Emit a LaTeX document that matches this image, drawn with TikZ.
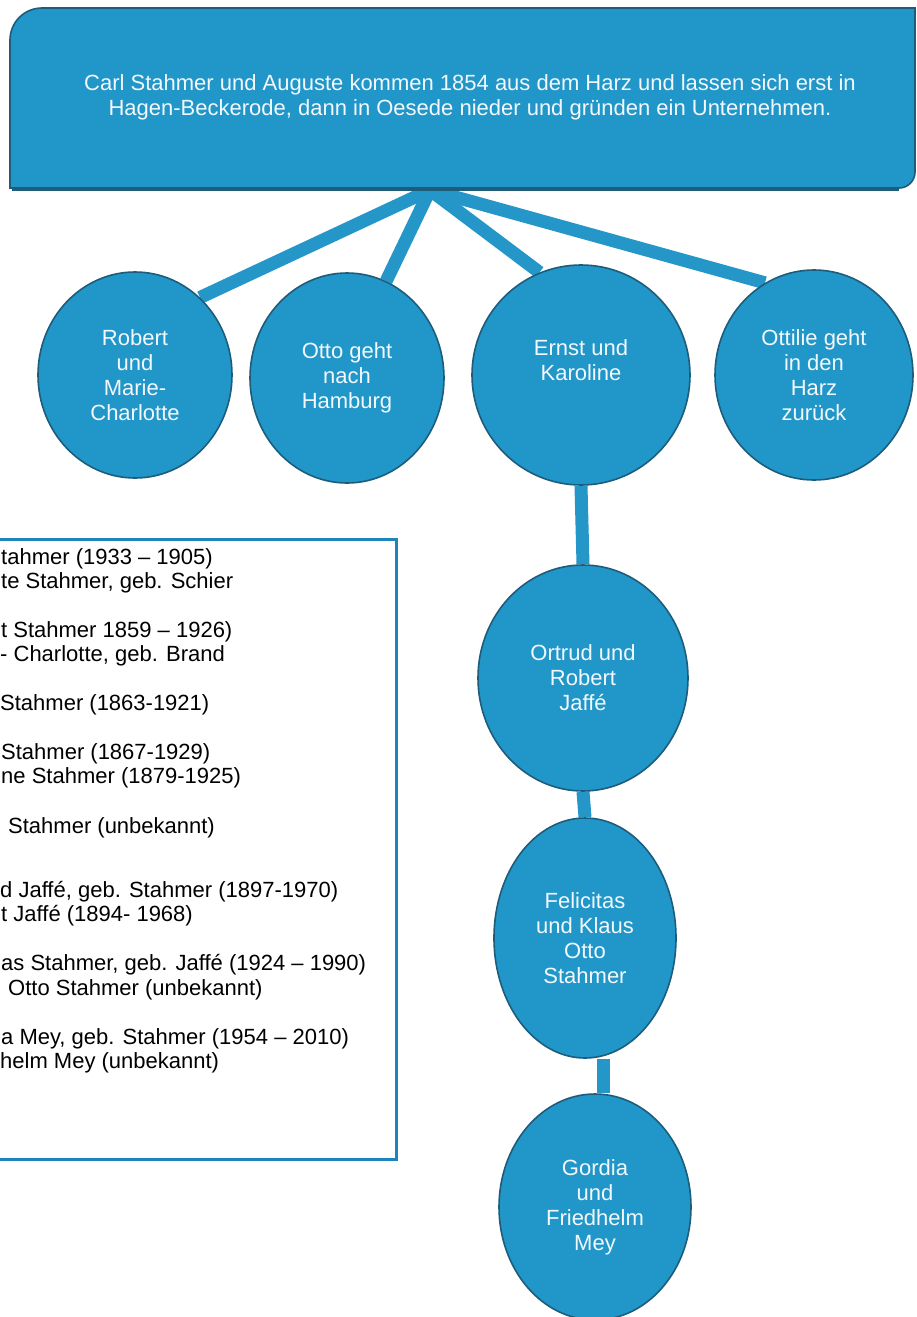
\documentclass[tikz,border=0pt]{standalone}
\usepackage{fontspec}
\setmainfont{Liberation Sans}
\usetikzlibrary{shapes.geometric,backgrounds}
\definecolor{nodeblue}{HTML}{2196C9}
\definecolor{edgeblue}{HTML}{1E5C7C}
\definecolor{linkblue}{HTML}{2496C8}
\definecolor{framblue}{HTML}{1F84BC}
\definecolor{softwhite}{HTML}{F2F8FB}
\tikzset{
 person/.style={ellipse, fill=nodeblue, draw=edgeblue, line width=1.6pt, text=softwhite,
   font=\fontsize{22}{25}\selectfont, align=center, inner sep=0pt},
 link/.style={draw=linkblue, line width=13pt},
 listline/.style={anchor=base west, font=\fontsize{22}{24}\selectfont, inner sep=0pt},
}
\begin{document}
\begin{tikzpicture}[x=1pt,y=1pt]
\useasboundingbox (0,0) rectangle (917,-1317);
% top box
\draw[fill=nodeblue, draw=edgeblue, line width=1.6pt]
  (10,-188) -- (10,-40) arc[start angle=180,end angle=90,radius=32]
  -- (915,-8) -- (915,-172) arc[start angle=0,end angle=-90,radius=16] -- cycle;
\draw[edgeblue, line width=2.5pt] (12,-190) -- (899,-190);
\node[text=softwhite, font=\fontsize{22}{25}\selectfont, align=center] (top) at (470,-97)
  {Carl Stahmer und Auguste kommen 1854 aus dem Harz und lassen sich erst in\\
   Hagen-Beckerode, dann in Oesede nieder und gründen ein Unternehmen.};
\coordinate (hub) at (430,-190);
% generation circles
\node[person, minimum width=194pt, minimum height=206pt] (c1) at (135,-375) {Robert\\und\\Marie-\\Charlotte};
\node[person, minimum width=194pt, minimum height=210pt] (c2) at (347,-378) {Otto geht\\nach\\Hamburg};
\node[person, minimum width=218pt, minimum height=220pt] (c3) at (581,-375) {Ernst und\\Karoline\\[0.2em]};
\node[person, minimum width=198pt, minimum height=210pt] (c4) at (814,-375) {Ottilie geht\\in den\\Harz\\zurück};
\node[person, minimum width=210pt, minimum height=226pt] (ort) at (583,-678) {Ortrud und\\Robert\\Jaffé};
\node[person, minimum width=182pt, minimum height=240pt] (fel) at (585,-938) {Felicitas\\und Klaus\\Otto\\Stahmer};
\node[person, minimum width=192pt, minimum height=226pt] (gor) at (595,-1207) {Gordia\\und\\Friedhelm\\Mey};
\coordinate (gx) at (603,0);
% legend box
\node[draw=framblue, line width=3pt, anchor=north west, minimum width=400pt, minimum height=620pt, inner sep=0pt] (legend) at (-5,-538) {};
\node[listline] (l1) at (1,-564) {tahmer (1933 – 1905)};
\node[listline] (l2) at (1,-588) {te Stahmer, geb. Schier};
\node[listline] (l3) at (1,-637) {t Stahmer 1859 – 1926)};
\node[listline] (l4) at (0,-661) {- Charlotte, geb. Brand};
\node[listline] (l5) at (0,-710) {Stahmer (1863-1921)};
\node[listline] (l6) at (1,-759) {Stahmer (1867-1929)};
\node[listline] (l7) at (1,-783) {ne Stahmer (1879-1925)};
\node[listline] (l8) at (8,-833) {Stahmer (unbekannt)};
\node[listline] (l9) at (0,-897) {d Jaffé, geb. Stahmer (1897-1970)};
\node[listline] (l10) at (1,-921) {t Jaffé (1894- 1968)};
\node[listline] (l11) at (1,-970) {as Stahmer, geb. Jaffé (1924 – 1990)};
\node[listline] (l12) at (8,-995) {Otto Stahmer (unbekannt)};
\node[listline] (l13) at (1,-1044) {a Mey, geb. Stahmer (1954 – 2010)};
\node[listline] (l14) at (0,-1068) {helm Mey (unbekannt)};
\begin{scope}[on background layer]
\fill[white] (0,0) rectangle (917,-1317);
\draw[link] (hub) -- (c1.50);
\draw[link] (hub) -- (c2.68);
\draw[link] (hub) -- (c3.112);
\draw[link] (hub) -- (c4.118);
\draw[link] (c3.south) -- (ort.north);
\draw[link] (ort.south) -- (fel.north);
\draw[link] (fel.south -| gx) -- (gor.north -| gx);
\end{scope}
\end{tikzpicture}
\end{document}
